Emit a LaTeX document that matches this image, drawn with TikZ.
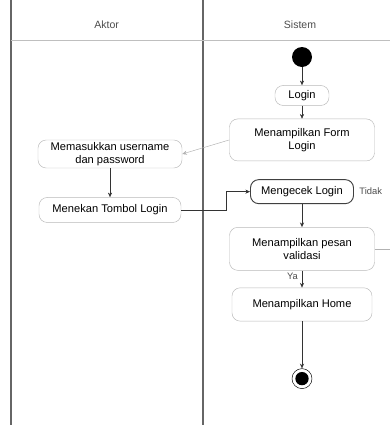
\documentclass[tikz,border=0pt]{standalone}
\usepackage{fontspec}
\setmainfont{Liberation Sans}
\usetikzlibrary{arrows.meta,positioning}

\begin{document}
\begin{tikzpicture}[
    >=Stealth,
    activity/.style={
        rectangle, rounded corners=7pt, draw=gray!55, fill=white,
        align=center, font=\fontsize{9.5}{11}\selectfont,
        inner sep=2pt
    },
    decide/.style={
        activity, draw=black!75, thick
    },
    lane/.style={draw=black!60, line width=1.2pt},
    laneheader/.style={font=\fontsize{9}{10}\selectfont, text=black!70},
    flow/.style={
        -{Stealth[length=4pt, width=3.5pt]}, draw=black!80, thin
    },
    glabel/.style={font=\fontsize{8}{9}\selectfont, text=black!70},
]

\useasboundingbox (0,0) rectangle (11.7,-12.75);

% ── Swimlanes ──
\draw[lane] (0.33,0) -- (0.33,-12.75);
\draw[lane] (6.09,0) -- (6.09,-12.75);
\draw[gray!50] (0.33,-1.2) -- (11.7,-1.2);
\node[laneheader] (aktor) at (3.2,-0.75) {Aktor};
\node[laneheader] (sistem) at (9.0,-0.75) {Sistem};

% ── Sistem ──
\node[circle, fill=black, minimum size=0.6cm, inner sep=0pt] (start) at (9.06,-1.71) {};
\node[activity, below=0.54cm of start, minimum width=1.62cm, minimum height=0.6cm] (login) {Login};
\node[activity, below=0.39cm of login, minimum width=4.35cm, minimum height=1.26cm] (form) {
    Menampilkan Form\\Login
};
\node[decide, below=0.54cm of form, minimum width=3.09cm, minimum height=0.72cm] (cek) {Mengecek Login};
\node[glabel, right=0.12cm of cek, inner sep=1pt] (tidak) {Tidak};
\node[activity, below=0.69cm of cek, minimum width=4.35cm, minimum height=1.29cm] (validasi) {
    Menampilkan pesan\\validasi
};
\node[activity, below=0.51cm of validasi, minimum width=4.2cm, minimum height=1.0cm] (home) {Menampilkan Home};
\node[circle, draw=black, minimum size=0.6cm, inner sep=0pt, below=1.41cm of home] (stop) {};
\node[circle, fill=black, minimum size=0.4cm, inner sep=0pt] at (stop) {};
\coordinate (edge) at (11.7,0 |- validasi.east);

% ── Aktor ──
\node[activity, minimum width=4.32cm, minimum height=0.84cm] (input) at (3.3,-4.62) {
    Memasukkan username\\dan password
};
\node[activity, below=0.87cm of input, minimum width=4.26cm, minimum height=0.75cm] (tombol) {Menekan Tombol Login};

% ── Flow arrows ──
\draw[flow] (start) -- (login);
\draw[flow] (login) -- (form);
\draw[flow, draw=gray!60] (form.west) -- (input.east);
\draw[flow] (input) -- (tombol);
\draw[flow] (tombol.east) -- ++(1.35,0) |- (cek.west);
\draw[flow] (cek) -- (validasi);
\draw[flow] (validasi) -- node[glabel, pos=0.35, left] {Ya} (home);
\draw[gray!60] (validasi.east) -- (edge);
\draw[flow] (home) -- (stop);

\end{tikzpicture}
\end{document}
